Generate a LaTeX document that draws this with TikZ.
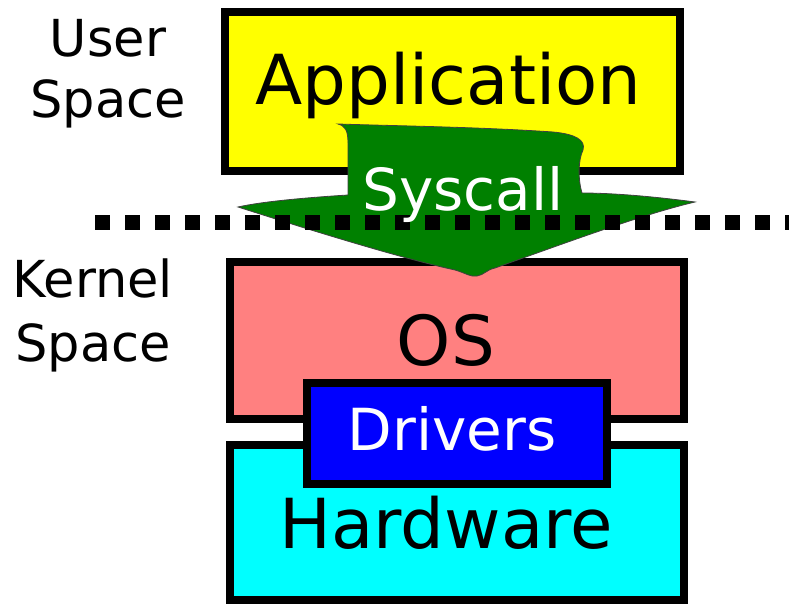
\documentclass[tikz,border=0pt]{standalone}
\usepackage{fontspec}
\setmainfont{DejaVu Sans}
\definecolor{appyellow}{RGB}{255,255,0}
\definecolor{osred}{RGB}{255,128,128}
\definecolor{hwcyan}{RGB}{0,255,255}
\definecolor{drvblue}{RGB}{0,0,255}
\definecolor{sysgreen}{RGB}{0,128,0}
\tikzset{
	layer/.style={draw=black, line width=8pt, inner sep=0pt},
	big/.style={font=\fontsize{69}{80}\selectfont, anchor=base},
	mid/.style={font=\fontsize{58}{64}\selectfont, anchor=base, text=white},
	side/.style={font=\fontsize{51}{60}\selectfont, anchor=base},
}

\begin{document}
\begin{tikzpicture}[x=1pt,y=-1pt]
		\useasboundingbox (0,0) rectangle (789,604);
		
		\node[layer, fill=appyellow, minimum width=455pt, minimum height=159pt] (App) at (452.5,91.5) {};
		\node[layer, fill=osred, minimum width=454pt, minimum height=157pt] (OS) at (457,340.5) {};
		\node[layer, fill=hwcyan, minimum width=454pt, minimum height=155pt] (HW) at (457,522.5) {};
		\node[layer, fill=drvblue, minimum width=300pt, minimum height=101pt] (Drv) at (457,433.5) {};
		
		% syscall arrow
		\draw[fill=sysgreen, draw=black!75, line width=0.8pt] (338,124)
			.. controls (345,126) and (348,130) .. (348,143) -- (348,195)
			.. controls (300,198) and (260,202) .. (238,207)
			.. controls (310,230) and (400,258) .. (455,270)
			.. controls (468,274) and (470,277) .. (477,276)
			.. controls (484,275) and (486,270) .. (495,268)
			.. controls (560,245) and (640,215) .. (695,202)
			.. controls (650,196) and (610,193) .. (582,193)
			.. controls (578,180) and (578,160) .. (583,150)
			.. controls (586,140) and (575,134) .. (553,132)
			.. controls (480,127) and (400,126) .. (338,124) -- cycle;
		
		\coordinate (L) at (95,222.5);
		\coordinate (R) at (789,222.5);
		\draw[line width=15pt, dash pattern=on 15pt off 15pt] (L) -- (R);
		
		\node[big] (AppT) at (448.5,105) {Application};
		\node[mid] (Sys) at (463,210) {Syscall};
		\node[big] (OST) at (446,365) {OS};
		\node[mid] (DrvT) at (452,450) {Drivers};
		\node[big] (HWT) at (446,548) {Hardware};
		
		\node[side] (U1) at (108,57) {User};
		\node[side] (U2) at (108,118) {Space};
		\node[side] (K1) at (93,297) {Kernel};
		\node[side] (K2) at (93,361) {Space};
		\end{tikzpicture}
\end{document}
